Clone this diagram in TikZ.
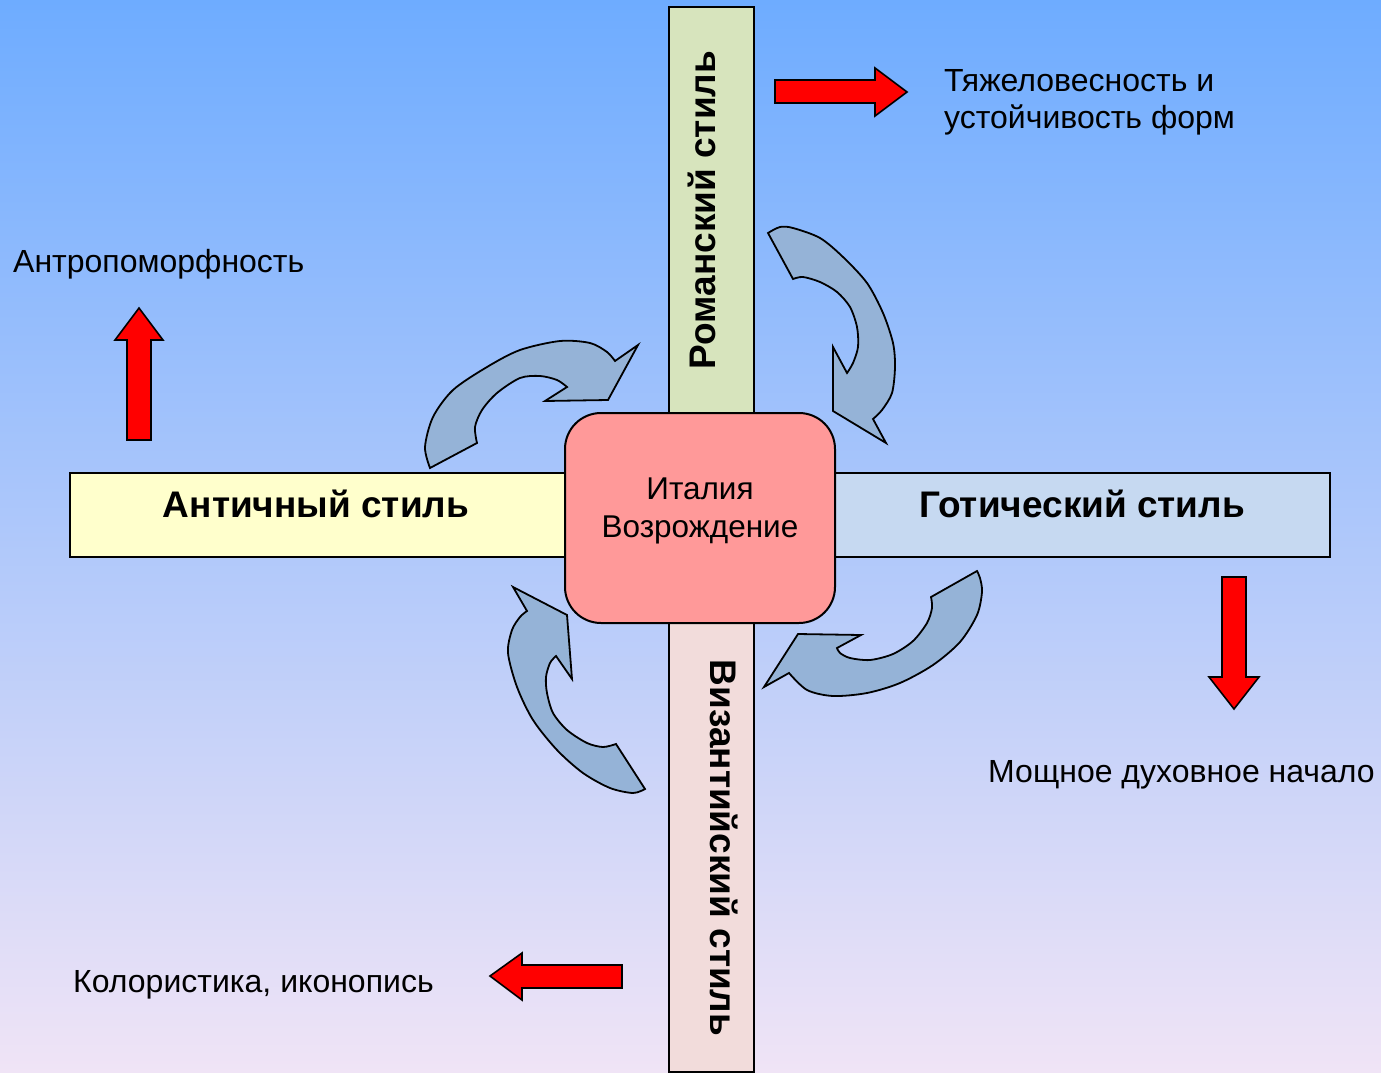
\documentclass[tikz,border=0pt]{standalone}
\usepackage{fontspec}
\setmainfont{Liberation Sans}
\definecolor{bgtop}{RGB}{110,172,255}
\definecolor{bgmid}{RGB}{165,202,242}
\definecolor{bgbot}{RGB}{240,228,246}
\definecolor{romcol}{RGB}{215,228,189}
\definecolor{byzcol}{RGB}{242,220,219}
\definecolor{antcol}{RGB}{255,255,204}
\definecolor{gotcol}{RGB}{198,217,241}
\definecolor{itcol}{RGB}{255,153,153}
\definecolor{arrblue}{RGB}{149,179,215}
\tikzset{
  barbox/.style={draw=black, line width=2pt},
  redarrow/.style={fill=red, draw=black, line width=1.6pt, line join=miter},
  curvearrow/.style={fill=arrblue, draw=black, line width=1.8pt, line join=miter},
  lbl/.style={font=\fontsize{32}{37}\selectfont, text=black, inner sep=0pt},
  boldlbl/.style={font=\fontsize{37}{42}\selectfont\bfseries, text=black, inner sep=0pt},
}
\begin{document}
\begin{tikzpicture}[x=1pt,y=-1pt]
\useasboundingbox (0,0) rectangle (1381,1073);
\shade[top color=bgtop, middle color=bgmid, bottom color=bgbot] (0,0) rectangle (1381,1073);

% bars
\draw[barbox, fill=romcol] (669,7) rectangle (754,420);
\draw[barbox, fill=byzcol] (669,615) rectangle (754,1072);
\draw[barbox, fill=antcol] (70,473) rectangle (575,557);
\draw[barbox, fill=gotcol] (825,473) rectangle (1330,557);

% centre
\draw[barbox, fill=itcol, rounded corners=36pt] (565,413) rectangle (835,623);
\node[lbl, align=center, anchor=north, font=\fontsize{31.5}{38}\selectfont] (italy) at (700,478) {Италия\\Возрождение};

% bar labels
\node[boldlbl, anchor=base] (ant) at (316,517) {Античный стиль};
\node[boldlbl, anchor=base] (got) at (1082,517) {Готический стиль};
\node[boldlbl, anchor=base, rotate=90] (rom) at (715,210) {Романский стиль};
\node[boldlbl, anchor=base, rotate=-90] (byz) at (710,848) {Византийский стиль};

% red block arrows
\draw[redarrow] (775,80) -- (875,80) -- (875,68) -- (907,92) -- (875,116) -- (875,103) -- (775,103) -- cycle;
\draw[redarrow] (127,440) -- (127,340) -- (115,340) -- (139,308) -- (163,340) -- (151,340) -- (151,440) -- cycle;
\draw[redarrow] (1222,577) -- (1222,677) -- (1209,677) -- (1234,709) -- (1259,677) -- (1246,677) -- (1246,577) -- cycle;
\draw[redarrow] (622,965) -- (522,965) -- (522,953) -- (490,976) -- (522,1000) -- (522,988) -- (622,988) -- cycle;

% side texts
\node[lbl, align=left, anchor=north west] (heavy) at (944,69) {Тяжеловесность и\\устойчивость форм};
\node[lbl, anchor=base west] (anthro) at (13,272) {Антропоморфность};
\node[lbl, anchor=base west] (spirit) at (988,782) {Мощное духовное начало};
\node[lbl, anchor=base west] (color) at (73,992) {Колористика, иконопись};

% curved arrows
\draw[curvearrow] plot[smooth] coordinates {(430,468) (425,447) (433,417) (453,390) (487,367) (520,350) (560,341) (590,343) (607,352) (615,361)}
  -- (638,345) -- (608,400) -- (545,401) -- (567,387)
  -- plot[smooth] coordinates {(567,387) (557,380) (540,376) (520,378) (497,393) (482,410) (475,427) (477,443)} -- cycle;

\draw[curvearrow] plot[smooth] coordinates {(768,233) (780,227) (793,228) (820,238) (843,257) (867,283) (883,313) (893,343) (895,367) (892,393) (882,410) (873,419)}
  -- (886,443) -- (833,411) -- (833,347) -- (847,373)
  -- plot[smooth] coordinates {(847,373) (853,363) (858,347) (857,327) (850,307) (837,292) (820,282) (803,277) (793,279)} -- cycle;

\draw[curvearrow] plot[smooth] coordinates {(977,571) (980,578) (982,592) (977,615) (960,642) (933,665) (900,683) (867,693) (833,696) (807,690) (789,673)}
  -- (764,687) -- (798,634) -- (861,635) -- (837,648)
  -- plot[smooth] coordinates {(837,648) (840,653) (850,658) (870,660) (893,654) (913,641) (927,623) (932,608) (931,597)} -- cycle;

\draw[curvearrow] plot[smooth] coordinates {(645,789) (633,793) (610,788) (583,773) (557,750) (533,720) (517,687) (508,653) (512,630) (520,617) (527,611)}
  -- (513,587) -- (567,615) -- (572,679) -- (556,656)
  -- plot[smooth] coordinates {(556,656) (550,663) (546,677) (547,693) (553,713) (567,730) (587,743) (603,747) (616,744)} -- cycle;
\end{tikzpicture}
\end{document}
